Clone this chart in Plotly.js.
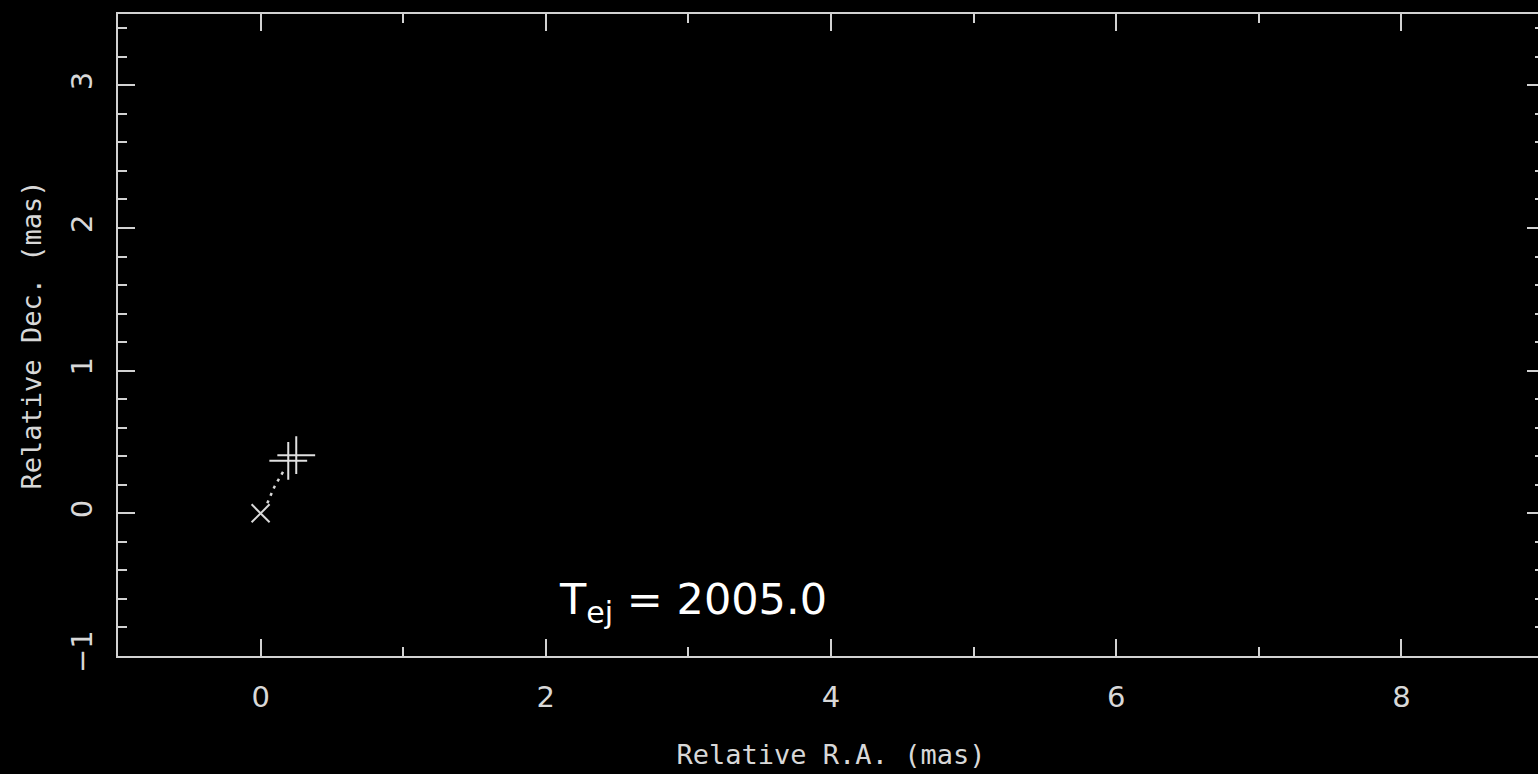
<!DOCTYPE html>
<html>
<head>
<meta charset="utf-8">
<script src="https://cdn.plot.ly/plotly-3.0.1.min.js"></script>
<style>
html, body { margin: 0; padding: 0; background: #000; overflow: hidden; width: 1538px; height: 774px; }
#chart { width: 1544px; height: 774px; }
</style>
</head>
<body>
<div id="chart"></div>
<script>
// Core position (origin)
const coreX = [0];
const coreY = [0];
// Component positions (plus markers)
const compX = [0.194, 0.250];
const compY = [0.368, 0.408];
// Dotted trajectory from core toward component
const trackX = [0.047, 0.070, 0.098, 0.128, 0.163];
const trackY = [0.071, 0.130, 0.188, 0.240, 0.300];
// Axis ranges and labels
const xRange = [-1, 9];
const yRange = [-1, 3.5];
const xTitle = 'Relative R.A. (mas)';
const yTitle = 'Relative Dec. (mas)';
const annoText = 'T<sub>ej</sub> = 2005.0';
const annoX = 2.08;
const annoY = -0.62;

const axisColor = '#d2d2d2';
const textColor = '#d8d8d8';
const tickFont = { family: 'DejaVu Sans', size: 29, color: textColor };
const titleFont = { family: 'DejaVu Sans Mono', size: 27, color: textColor };

const traces = [
  {
    x: trackX, y: trackY, type: 'scatter', mode: 'lines',
    line: { color: '#d8d8d8', width: 2.5, dash: '3px,5px' },
    hoverinfo: 'skip', showlegend: false
  },
  {
    x: coreX, y: coreY, type: 'scatter', mode: 'markers',
    marker: { symbol: 'x-thin-open', size: 18, color: '#d8d8d8', line: { color: '#d8d8d8', width: 2 } },
    showlegend: false
  },
  {
    x: compX, y: compY, type: 'scatter', mode: 'markers',
    marker: { symbol: 'cross-thin-open', size: 27, color: '#e0e0e0', line: { color: '#e0e0e0', width: 2 } },
    showlegend: false
  }
];

const layout = {
  width: 1544, height: 774,
  paper_bgcolor: '#000', plot_bgcolor: '#000',
  margin: { l: 118, r: 0, t: 14, b: 118 },
  showlegend: false,
  xaxis: {
    range: xRange, dtick: 2, tick0: 0,
    showgrid: false, zeroline: false,
    showline: true, linecolor: axisColor, linewidth: 2, mirror: 'allticks',
    ticks: 'inside', ticklen: 17, tickwidth: 2, tickcolor: axisColor,
    minor: { dtick: 1, ticks: 'inside', ticklen: 9, tickwidth: 2, tickcolor: axisColor, showgrid: false },
    tickfont: tickFont, ticklabelstandoff: 14,
    title: { text: xTitle, font: titleFont, standoff: 32 }
  },
  yaxis: {
    range: yRange, dtick: 1, tick0: 0,
    showgrid: false, zeroline: false,
    showline: true, linecolor: axisColor, linewidth: 2, mirror: 'allticks',
    ticks: 'inside', ticklen: 17, tickwidth: 2, tickcolor: axisColor,
    minor: { dtick: 0.2, ticks: 'inside', ticklen: 9, tickwidth: 2, tickcolor: axisColor, showgrid: false },
    tickfont: tickFont, tickangle: -90, ticklabelstandoff: 12,
    title: { text: yTitle, font: titleFont, standoff: 16 }
  },
  annotations: [
    {
      x: annoX, y: annoY, xref: 'x', yref: 'y', xanchor: 'left', yanchor: 'middle',
      text: annoText, showarrow: false,
      font: { family: 'DejaVu Sans', size: 43, color: '#ffffff' }
    }
  ]
};

Plotly.newPlot('chart', traces, layout, { displayModeBar: false, staticPlot: true });
</script>
</body>
</html>
